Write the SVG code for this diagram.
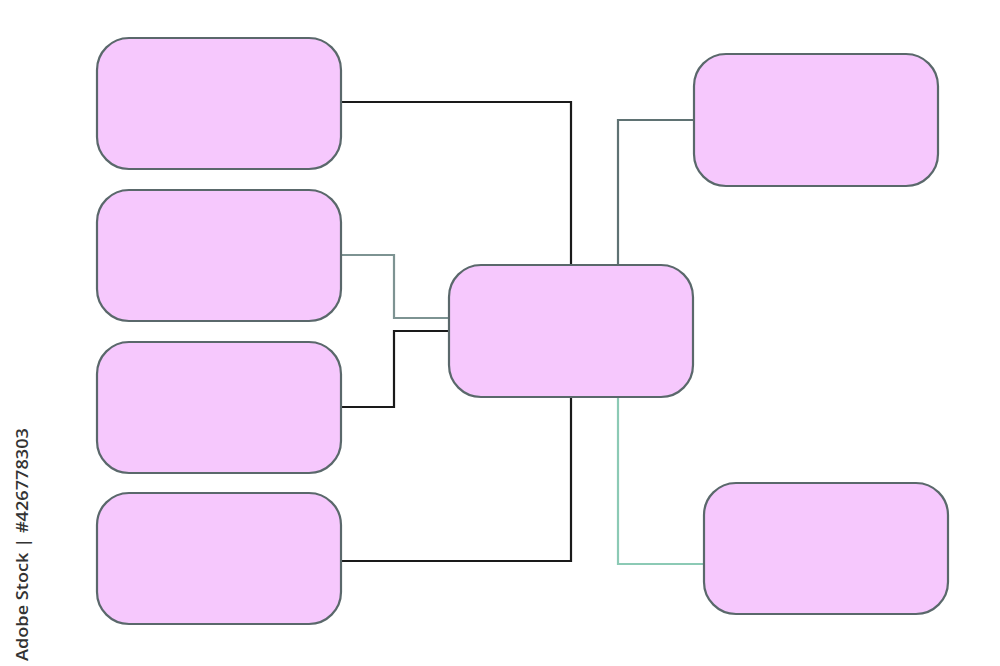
<svg xmlns="http://www.w3.org/2000/svg" width="1000" height="666" viewBox="0 0 1000 666">
  <style>
    .node { fill: #f6c8fd; stroke: #5a686b; stroke-width: 2.2; }
    .c { fill: none; stroke-width: 2.2; }
    .blk { stroke: #1a1a1a; }
    .gry { stroke: #7d9392; }
    .dgr { stroke: #5f7273; }
    .tel { stroke: #8ccab5; }
    .wm { font-family: "Open Sans", "Liberation Sans", sans-serif; font-size: 17px; font-weight: 600; fill: #333333; }
  </style>
  <rect width="1000" height="666" fill="#ffffff"/>
  <g id="connectors">
    <polyline class="c blk" points="341,102 571,102 571,265"/>
    <polyline class="c gry" points="341,255 394,255 394,318 449,318"/>
    <polyline class="c blk" points="341,407 394,407 394,331 449,331"/>
    <polyline class="c blk" points="341,561 571,561 571,397"/>
    <polyline class="c dgr" points="618,265 618,120 694,120"/>
    <polyline class="c tel" points="618,397 618,564 704,564"/>
  </g>
  <g id="node-left-1"><rect class="node" x="97" y="38" width="244" height="131" rx="32"/></g>
  <g id="node-left-2"><rect class="node" x="97" y="190" width="244" height="131" rx="32"/></g>
  <g id="node-left-3"><rect class="node" x="97" y="342" width="244" height="131" rx="32"/></g>
  <g id="node-left-4"><rect class="node" x="97" y="493" width="244" height="131" rx="32"/></g>
  <g id="node-center"><rect class="node" x="449" y="265" width="244" height="132" rx="32"/></g>
  <g id="node-right-top"><rect class="node" x="694" y="54" width="244" height="132" rx="32"/></g>
  <g id="node-right-bottom"><rect class="node" x="704" y="483" width="244" height="131" rx="32"/></g>
  <text class="wm" transform="translate(28,661) rotate(-90)" textLength="233" lengthAdjust="spacingAndGlyphs">Adobe Stock | #426778303</text>
</svg>
